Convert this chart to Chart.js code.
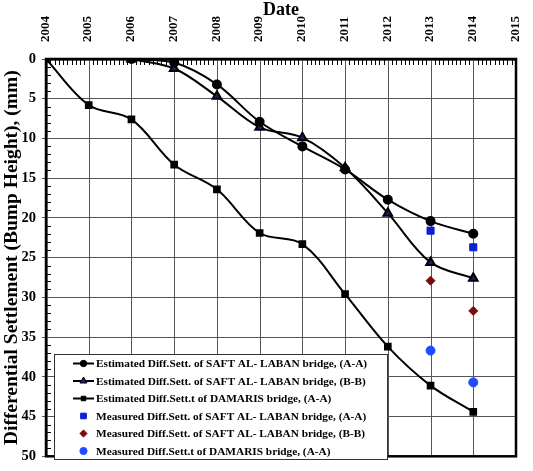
<!DOCTYPE html>
<html>
<head>
<meta charset="utf-8">
<script src="https://cdn.jsdelivr.net/npm/chart.js@4/dist/chart.umd.min.js"></script>
<style>
  html, body { margin: 0; padding: 0; background: #fff; }
  #wrap { width: 533px; height: 471px; }
</style>
</head>
<body>
<div id="wrap"><canvas id="myChart" width="533" height="471"></canvas></div>
<script>
// years on the (top) date axis
const safYears = [2006, 2007, 2008, 2009, 2010, 2011, 2012, 2013, 2014];
const damYears = [2004, 2005, 2006, 2007, 2008, 2009, 2010, 2011, 2012, 2013, 2014];
const measYears = [2013, 2014];

// settlement values, mm
const safEstAA = [0, 0.45, 3.2, 7.9, 11.0, 13.9, 17.7, 20.4, 22.0];
const safEstBB = [0, 1.2, 4.7, 8.6, 9.9, 13.7, 19.4, 25.6, 27.6];
const damEstAA = [0, 5.8, 7.6, 13.3, 16.4, 21.9, 23.3, 29.6, 36.2, 41.1, 44.4];
const safMeasAA = [21.6, 23.7];
const safMeasBB = [27.9, 31.7];
const damMeasAA = [36.7, 40.7];

const labels = [
    'Estimated Diff.Sett. of SAFT AL- LABAN bridge, (A-A)',
    'Estimated Diff.Sett. of SAFT AL- LABAN bridge, (B-B)',
    'Estimated Diff.Sett.t of DAMARIS bridge, (A-A)',
    'Measured Diff.Sett. of SAFT AL- LABAN bridge, (A-A)',
    'Measured Diff.Sett. of SAFT AL- LABAN bridge, (B-B)',
    'Measured Diff.Sett.t of DAMARIS bridge, (A-A)'
];

function pts(xs, ys) {
    return xs.map((x, i) => ({x: x, y: ys[i]}));
}

Chart.defaults.font.family = "'Liberation Serif', 'Times New Roman', serif";
Chart.defaults.font.weight = 'bold';
Chart.defaults.color = '#000';

// year grid, minor ticks, frame and the boxed legend inside the plot
const extras = {
    id: 'extras',
    beforeDatasetsDraw(chart) {
        const ctx = chart.ctx;
        const a = chart.chartArea;
        const xs = chart.scales.x, ys = chart.scales.y;
        ctx.save();
        ctx.strokeStyle = '#555';
        ctx.lineWidth = 1;
        ctx.beginPath();
        xs.ticks.forEach(t => {
            const px = Math.round(xs.getPixelForValue(t.value)) + 0.5;
            ctx.moveTo(px, a.top);
            ctx.lineTo(px, a.bottom);
        });
        ctx.stroke();
        ctx.strokeStyle = '#000';
        ctx.beginPath();
        for (let m = 0; m <= 110; m++) {
            if (m % 10 === 0) continue;
            const px = Math.round(xs.getPixelForValue(2004 + m / 10)) + 0.5;
            ctx.moveTo(px, a.top);
            ctx.lineTo(px, a.top + 6);
        }
        for (let v = 1; v < 50; v++) {
            if (v % 5 === 0) continue;
            const py = Math.round(ys.getPixelForValue(v)) + 0.5;
            ctx.moveTo(a.left, py);
            ctx.lineTo(a.left + 5, py);
        }
        ctx.stroke();
        ctx.lineWidth = 2.5;
        ctx.strokeRect(a.left, a.top, a.right - a.left, a.bottom - a.top);
        ctx.restore();
    },
    afterDraw(chart) {
        const ctx = chart.ctx;
        const box = {x: 54, y: 354, w: 333, h: 105};
        ctx.save();
        ctx.fillStyle = '#fff';
        ctx.fillRect(box.x, box.y, box.w, box.h);
        ctx.strokeStyle = '#333';
        ctx.lineWidth = 1;
        ctx.strokeRect(box.x + 0.5, box.y + 0.5, box.w, box.h);
        ctx.font = "bold 11.3px 'Liberation Serif', serif";
        ctx.textBaseline = 'middle';
        chart.data.datasets.forEach((ds, i) => {
            const y = box.y + 9.5 + i * 17.5;
            if (ds.showLine !== false) {
                ctx.strokeStyle = '#000';
                ctx.lineWidth = 2;
                ctx.beginPath();
                ctx.moveTo(73, y);
                ctx.lineTo(94, y);
                ctx.stroke();
            }
            ctx.fillStyle = ds.pointBackgroundColor;
            ctx.strokeStyle = ds.pointBorderColor;
            ctx.lineWidth = 1;
            Chart.helpers.drawPoint(ctx, {
                pointStyle: ds.pointStyle,
                radius: ds.pointRadius * 0.8,
                borderWidth: 1
            }, 83.5, y);
            ctx.fillStyle = '#000';
            ctx.fillText(ds.label, 96, y + 1);
        });
        ctx.restore();
    }
};

const ctx = document.getElementById('myChart').getContext('2d');
const chart = new Chart(ctx, {
    type: 'scatter',
    data: {
        datasets: [{
            label: labels[0],
            data: pts(safYears, safEstAA),
            showLine: true,
            borderColor: '#000',
            borderWidth: 2,
            tension: 0.35,
            pointStyle: 'circle',
            pointRadius: 4,
            pointBackgroundColor: '#000',
            pointBorderColor: '#000'
        }, {
            label: labels[1],
            data: pts(safYears, safEstBB),
            showLine: true,
            borderColor: '#000',
            borderWidth: 2,
            tension: 0.35,
            pointStyle: 'triangle',
            pointRadius: 5,
            pointBackgroundColor: '#1c1c78',
            pointBorderColor: '#000'
        }, {
            label: labels[2],
            data: pts(damYears, damEstAA),
            showLine: true,
            borderColor: '#000',
            borderWidth: 2,
            tension: 0.35,
            pointStyle: 'rect',
            pointRadius: 4,
            pointBackgroundColor: '#000',
            pointBorderColor: '#000'
        }, {
            label: labels[3],
            data: pts(measYears, safMeasAA),
            showLine: false,
            pointStyle: 'rect',
            pointRadius: 5,
            pointBackgroundColor: '#0a1fd0',
            pointBorderColor: '#0a1fd0'
        }, {
            label: labels[4],
            data: pts(measYears, safMeasBB),
            showLine: false,
            pointStyle: 'rectRot',
            pointRadius: 4.5,
            pointBackgroundColor: '#7a0c0c',
            pointBorderColor: '#7a0c0c'
        }, {
            label: labels[5],
            data: pts(measYears, damMeasAA),
            showLine: false,
            pointStyle: 'circle',
            pointRadius: 4.5,
            pointBackgroundColor: '#1f4cff',
            pointBorderColor: '#1f4cff'
        }]
    },
    options: {
        responsive: false,
        animation: false,
        layout: {padding: {left: 0, right: 17, top: 0, bottom: 7}},
        plugins: {
            legend: {display: false},
            tooltip: {enabled: false}
        },
        scales: {
            x: {
                type: 'linear',
                position: 'top',
                min: 2004,
                max: 2015,
                afterFit: scale => { scale.height = 59; },
                ticks: {
                    stepSize: 1,
                    minRotation: 90,
                    maxRotation: 90,
                    padding: 9,
                    labelOffset: 15,
                    font: {size: 13, weight: 'bold'},
                    callback: v => String(v)
                },
                grid: {display: false},
                border: {color: '#000', width: 2.5},
                title: {
                    display: true,
                    text: 'Date',
                    font: {size: 18, weight: 'bold'},
                    padding: {top: 0, bottom: 0}
                }
            },
            y: {
                reverse: true,
                min: 0,
                max: 50,
                afterFit: scale => { scale.width = 46; },
                ticks: {
                    stepSize: 5,
                    padding: 6,
                    font: {size: 14.5, weight: 'bold'}
                },
                grid: {color: '#555', lineWidth: 1, tickLength: 4},
                border: {color: '#000', width: 2.5},
                title: {
                    display: true,
                    text: 'Differential Settlement (Bump Height), (mm)',
                    font: {size: 19.5, weight: 'bold'},
                    padding: {top: 0, bottom: 0}
                }
            }
        }
    },
    plugins: [extras]
});
</script>
</body>
</html>
